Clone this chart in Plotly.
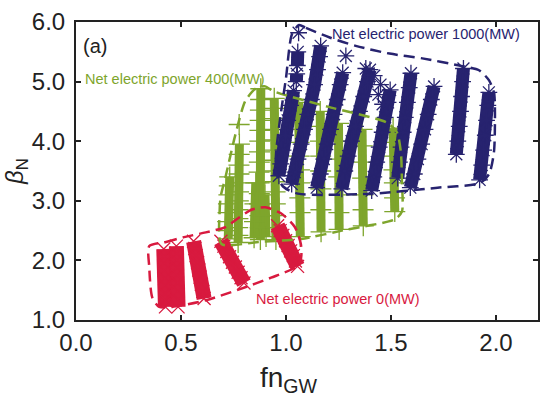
import plotly.graph_objects as go

# ---------------- data ----------------
# Net electric power 1000 MW  (blue asterisks) : stripes, points listed top -> bottom
blue_stripes_x = [
    [1.060],
    [1.056, 1.054],
    [1.051, 1.049],
    [1.036, 1.022, 1.008, 0.997, 0.986, 0.975, 0.966],
    [1.165, 1.160, 1.150, 1.136, 1.121, 1.104, 1.088, 1.072, 1.057, 1.042, 1.027],
    [1.285],
    [1.270, 1.258, 1.244, 1.229, 1.212, 1.196, 1.180, 1.163, 1.146],
    [1.400, 1.388, 1.370, 1.350, 1.331, 1.312, 1.296, 1.280, 1.266],
    [1.380], [1.420], [1.450], [1.440], [1.460],
    [1.496, 1.486, 1.472, 1.458, 1.444, 1.432, 1.418, 1.408],
    [1.595, 1.587, 1.578, 1.568, 1.558, 1.548, 1.540, 1.532],
    [1.705, 1.692, 1.677, 1.662, 1.646, 1.628, 1.611, 1.592],
    [1.845, 1.841, 1.836, 1.831, 1.825, 1.818, 1.811],
    [1.966, 1.961, 1.955, 1.949, 1.941, 1.932, 1.922],
]
blue_stripes_y = [
    [5.82],
    [5.50, 5.27],
    [5.13, 5.00],
    [4.85, 4.60, 4.35, 4.10, 3.85, 3.62, 3.42],
    [5.60, 5.42, 5.20, 4.95, 4.70, 4.45, 4.20, 3.95, 3.70, 3.48, 3.28],
    [5.43],
    [5.15, 4.95, 4.70, 4.45, 4.20, 3.95, 3.70, 3.45, 3.22],
    [5.20, 5.00, 4.75, 4.50, 4.25, 4.00, 3.75, 3.50, 3.20],
    [5.22], [5.10], [4.95], [4.78], [4.62],
    [4.86, 4.65, 4.40, 4.15, 3.90, 3.65, 3.40, 3.17],
    [5.14, 4.90, 4.65, 4.40, 4.15, 3.90, 3.65, 3.38],
    [4.92, 4.70, 4.45, 4.20, 3.95, 3.70, 3.45, 3.22],
    [5.22, 5.00, 4.75, 4.50, 4.25, 4.00, 3.78],
    [4.82, 4.60, 4.35, 4.10, 3.85, 3.60, 3.35],
]

# Net electric power 400 MW  (green pluses)
green_stripes_x = [
    [0.732, 0.730, 0.728, 0.726, 0.724, 0.722, 0.723, 0.725],
    [0.777],
    [0.778, 0.777, 0.776, 0.776, 0.775, 0.774, 0.773, 0.772, 0.771, 0.770, 0.771, 0.772],
    [0.880, 0.879, 0.878, 0.877, 0.876, 0.875, 0.874, 0.873, 0.872, 0.872, 0.873, 0.874, 0.876, 0.877, 0.878],
    [0.856, 0.852, 0.850, 0.848],
    [0.900, 0.903, 0.905],
    [0.944, 0.944, 0.945, 0.945, 0.946, 0.946, 0.947, 0.947, 0.948, 0.948, 0.949, 0.950, 0.951, 0.952],
    [1.060, 1.060, 1.061, 1.062, 1.063, 1.064, 1.065, 1.066, 1.067, 1.068],
    [1.163, 1.164, 1.164, 1.165, 1.165, 1.166, 1.166, 1.167],
    [1.250, 1.250, 1.251, 1.251, 1.252, 1.252, 1.253],
    [1.362, 1.363, 1.364, 1.365, 1.366, 1.367, 1.368],
    [1.510, 1.511, 1.513, 1.514, 1.516, 1.517, 1.518],
]
green_stripes_y = [
    [3.40, 3.25, 3.10, 2.95, 2.80, 2.65, 2.50, 2.36],
    [4.28],
    [3.95, 3.78, 3.60, 3.45, 3.30, 3.15, 3.00, 2.85, 2.70, 2.55, 2.42, 2.30],
    [4.88, 4.70, 4.52, 4.35, 4.18, 4.00, 3.82, 3.65, 3.48, 3.30, 3.12, 2.95, 2.75, 2.55, 2.35],
    [3.30, 2.95, 2.65, 2.38],
    [3.10, 2.75, 2.40],
    [4.72, 4.55, 4.38, 4.20, 4.02, 3.85, 3.68, 3.50, 3.32, 3.15, 2.95, 2.75, 2.55, 2.35],
    [4.65, 4.42, 4.20, 3.98, 3.75, 3.52, 3.30, 3.05, 2.80, 2.40],
    [4.50, 4.25, 4.00, 3.75, 3.50, 3.20, 2.85, 2.48],
    [4.30, 4.00, 3.70, 3.40, 3.10, 2.80, 2.52],
    [4.20, 3.92, 3.65, 3.38, 3.10, 2.85, 2.58],
    [4.22, 3.98, 3.75, 3.52, 3.30, 3.05, 2.82],
]

# Net electric power 0 MW  (red crosses)
red_stripes_x = [
    [0.418, 0.419, 0.420, 0.421, 0.422, 0.423, 0.424, 0.425, 0.426],
    [0.478, 0.479, 0.480, 0.481, 0.482, 0.483, 0.484, 0.485, 0.486],
    [0.560, 0.566, 0.572, 0.579, 0.585, 0.591, 0.597, 0.604, 0.610],
    [0.690, 0.704, 0.718, 0.731, 0.745, 0.759, 0.772, 0.786, 0.800],
    [0.960, 0.972, 0.985, 0.998, 1.010, 1.022, 1.035, 1.045, 1.055],
]
red_stripes_y = [
    [2.19, 2.07, 1.95, 1.83, 1.70, 1.58, 1.45, 1.33, 1.22],
    [2.24, 2.12, 2.00, 1.88, 1.75, 1.62, 1.48, 1.35, 1.22],
    [2.32, 2.20, 2.08, 1.96, 1.84, 1.72, 1.60, 1.48, 1.36],
    [2.32, 2.24, 2.15, 2.06, 1.97, 1.89, 1.80, 1.71, 1.62],
    [2.58, 2.50, 2.42, 2.33, 2.25, 2.16, 2.08, 1.99, 1.90],
]

# dashed envelopes
blue_env_x = [1.062, 1.095, 1.208, 1.332, 1.493, 1.649, 1.825, 1.919, 1.967, 1.991, 1.995, 1.990,
              1.967, 1.925, 1.722, 1.406, 1.057, 0.986, 0.953, 0.953, 0.976, 1.000, 1.028, 1.062]
blue_env_y = [5.95, 5.90, 5.74, 5.60, 5.47, 5.39, 5.27, 5.19, 5.02, 4.80, 4.48, 3.81,
              3.45, 3.30, 3.22, 3.12, 3.12, 3.24, 3.48, 3.81, 4.48, 5.06, 5.79, 5.95]
green_env_x = [0.693, 0.684, 0.689, 0.712, 0.759, 0.807, 0.858, 0.901, 0.939, 1.198, 1.481, 1.528,
               1.547, 1.552, 1.552, 1.519, 1.292, 1.071, 0.868, 0.693]
green_env_y = [2.275, 2.82, 3.07, 3.40, 4.11, 4.68, 4.89, 4.92, 4.84, 4.58, 4.31, 4.15,
               3.81, 3.32, 2.82, 2.69, 2.52, 2.36, 2.31, 2.275]
red_env_x = [0.349, 0.429, 0.514, 0.618, 0.712, 0.774, 0.835, 0.901, 0.976, 1.042, 1.071, 1.071,
             1.047, 0.929, 0.774, 0.618, 0.458, 0.396, 0.363, 0.349, 0.349]
red_env_y = [2.24, 2.31, 2.39, 2.47, 2.56, 2.71, 2.85, 2.89, 2.79, 2.56, 2.27, 2.03,
             1.89, 1.71, 1.51, 1.33, 1.22, 1.22, 1.38, 1.88, 2.24]

x_ticks = [0.0, 0.5, 1.0, 1.5, 2.0]
x_ticklabels = ["0.0", "0.5", "1.0", "1.5", "2.0"]
y_ticks = [1.0, 2.0, 3.0, 4.0, 5.0, 6.0]
y_ticklabels = ["1.0", "2.0", "3.0", "4.0", "5.0", "6.0"]

labels = ["Net electric power 400(MW)", "Net electric power 1000(MW)", "Net electric power 0(MW)"]

# ---------------- styling ----------------
BLUE = "#27236f"
GREEN = "#7ea52c"
RED = "#d81a3f"
FONT = "Liberation Sans, Arial, Helvetica, sans-serif"


def join(xs_list, ys_list):
    X, Y = [], []
    for xs, ys in zip(xs_list, ys_list):
        X += list(xs) + [None]
        Y += list(ys) + [None]
    return X, Y


fig = go.Figure()


def add_cloud(xs_list, ys_list, color, lw, symbol, msize):
    X, Y = join(xs_list, ys_list)
    fig.add_trace(go.Scatter(
        x=X, y=Y, mode="lines+markers", connectgaps=False, hoverinfo="skip",
        line=dict(color=color, width=lw),
        marker=dict(symbol=symbol, size=msize, color=color, line=dict(color=color, width=1.3)),
        showlegend=False))


add_cloud(green_stripes_x, green_stripes_y, GREEN, 9, "cross-thin-open", 15)
add_cloud(blue_stripes_x, blue_stripes_y, BLUE, 13, "asterisk-open", 14)
add_cloud(red_stripes_x, red_stripes_y, RED, 15, "x-thin-open", 13)


def add_env(xs, ys, color):
    fig.add_trace(go.Scatter(
        x=xs, y=ys, mode="lines", hoverinfo="skip", showlegend=False,
        line=dict(color=color, width=2.5, dash="11px,6px", shape="spline", smoothing=0.7)))


add_env(green_env_x, green_env_y, GREEN)
add_env(blue_env_x, blue_env_y, BLUE)
add_env(red_env_x, red_env_y, RED)

ann = [
    dict(x=0.024, y=5.60, text="(a)", font=dict(size=20, color="#222")),
    dict(x=0.033, y=5.04, text=labels[0], font=dict(size=14.5, color=GREEN)),
    dict(x=1.209, y=5.80, text=labels[1], font=dict(size=14.5, color=BLUE)),
    dict(x=0.848, y=1.36, text=labels[2], font=dict(size=14.5, color=RED)),
]
for a in ann:
    fig.add_annotation(x=a["x"], y=a["y"], text=a["text"], xref="x", yref="y",
                       xanchor="left", yanchor="middle", showarrow=False,
                       font=dict(family=FONT, **a["font"]))

# axis titles
fig.add_annotation(x=-0.13, y=0.50, xref="paper", yref="paper", text="<i>β</i><sub>N</sub>",
                   textangle=-90, showarrow=False, xanchor="center", yanchor="middle",
                   font=dict(family=FONT, size=24, color="#222"))
fig.add_annotation(x=0.46, y=-0.20, xref="paper", yref="paper", text="fn<sub>GW</sub>",
                   showarrow=False, xanchor="center", yanchor="middle",
                   font=dict(family=FONT, size=28, color="#222"))

axis_common = dict(showline=True, linewidth=2, linecolor="#222", mirror="ticks",
                   ticks="inside", ticklen=5, tickwidth=1.5, tickcolor="#222",
                   showgrid=False, zeroline=False,
                   tickfont=dict(family=FONT, size=24, color="#222"))

fig.update_xaxes(range=[0, 2.2], tickvals=x_ticks, ticktext=x_ticklabels,
                 ticklabelstandoff=0, **axis_common)
fig.update_yaxes(range=[1, 6], tickvals=y_ticks, ticktext=y_ticklabels,
                 ticklabelstandoff=4, **axis_common)

fig.update_layout(width=548, height=402, margin=dict(l=76, r=8, t=17, b=82),
                  plot_bgcolor="white", paper_bgcolor="white", showlegend=False)

fig.write_html("out.html")
